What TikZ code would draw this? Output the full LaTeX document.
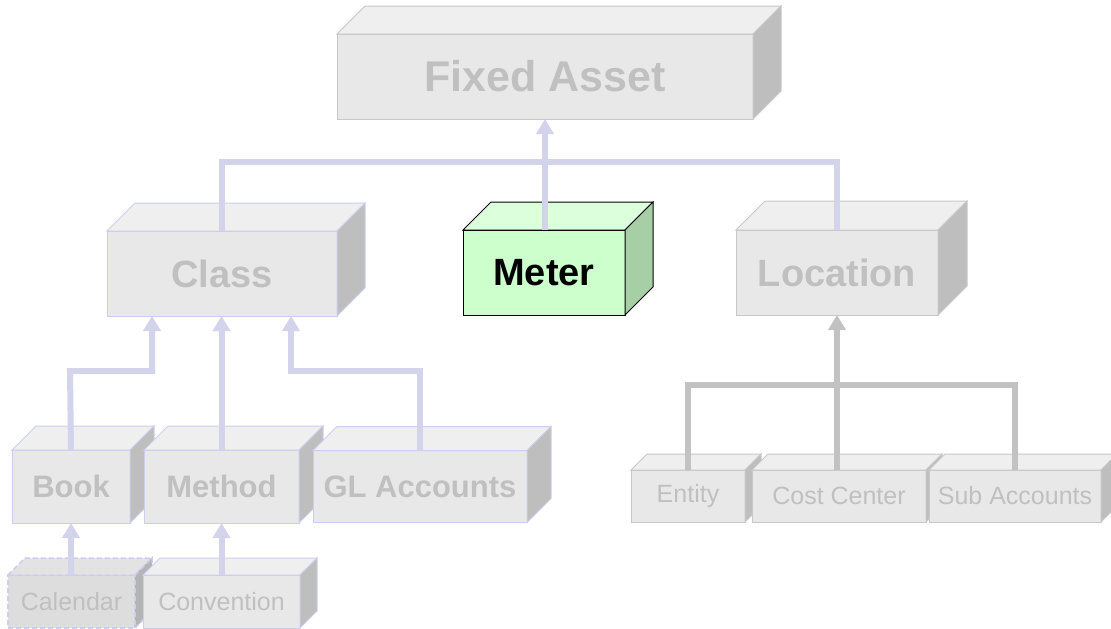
\documentclass[tikz,border=0pt]{standalone}
\usepackage{fontspec}
\setmainfont{Liberation Sans}
\usetikzlibrary{arrows.meta,calc}
\definecolor{lav}{HTML}{D3D3EC}
\definecolor{lavedge}{HTML}{CDCDEE}
\definecolor{gedge}{HTML}{C8C8C8}
\definecolor{frontc}{HTML}{E8E8E8}
\definecolor{topc}{HTML}{EFEFEF}
\definecolor{sidec}{HTML}{BEBEBE}
\definecolor{txt}{HTML}{C0C0C0}
\definecolor{gline}{HTML}{C2C2C2}
\definecolor{mfront}{HTML}{CCFFCC}
\definecolor{mtop}{HTML}{DCFFDC}
\definecolor{mside}{HTML}{A6CFA6}
\definecolor{cfront}{HTML}{DDDDDD}
\definecolor{ctop}{HTML}{E3E3E3}
\definecolor{cside}{HTML}{B4B4B4}
% name, depth, top fill, side fill, draw options
\newcommand\cubefaces[5]{%
  \filldraw[#5, fill=#3] (#1.north west) -- ++(#2,-#2) -- ($(#1.north east)+(#2pt,#2pt)$) -- (#1.north east) -- cycle;
  \filldraw[#5, fill=#4] (#1.north east) -- ($(#1.north east)+(#2pt,#2pt)$) -- ($(#1.south east)+(#2pt,#2pt)$) -- (#1.south east) -- cycle;
}
\tikzset{
  cube/.style={rectangle, fill=frontc, draw=#1, line width=1pt, inner sep=0pt, outer sep=0pt, text=txt},
  bigtxt/.style={font=\fontsize{38}{38}\selectfont\bfseries},
  hugetxt/.style={font=\fontsize{43}{43}\selectfont\bfseries},
  midtxt/.style={font=\fontsize{31}{31}\selectfont\bfseries},
  smalltxt/.style={font=\fontsize{25}{25}\selectfont},
  link/.style={draw=lav, line width=6pt, line join=miter},
  glink/.style={draw=gline, line width=6pt, line join=miter},
  tip/.style={-{Triangle[length=15pt,width=17pt]}},
}
\begin{document}
\begin{tikzpicture}[x=1pt,y=-1pt]
\useasboundingbox (0,0) rectangle (1111,629);
\clip (0,0) rectangle (1111,629);
% top
\node[cube=gedge, hugetxt, minimum width=416pt, minimum height=85pt] (fa) at (545,76.5) {Fixed Asset};
\cubefaces{fa}{28}{topc}{sidec}{draw=gedge, line width=1pt}
% middle row
\node[cube=lavedge, bigtxt, minimum width=230pt, minimum height=85pt] (class) at (222,273.5) {Class};
\cubefaces{class}{28}{topc}{sidec}{draw=lavedge, line width=1pt}
\node[cube=black, bigtxt, fill=mfront, text=black, minimum width=162pt, minimum height=85pt] (meter) at (544,272.5) {Meter};
\cubefaces{meter}{28}{mtop}{mside}{draw=black, line width=1pt}
\node[cube=gedge, bigtxt, minimum width=202pt, minimum height=85pt] (loc) at (837,272.5) {Location};
\cubefaces{loc}{29}{topc}{sidec}{draw=gedge, line width=1pt}
% lower left row
\node[cube=lavedge, midtxt, minimum width=118pt, minimum height=73pt] (book) at (71,486.5) {Book};
\cubefaces{book}{24}{topc}{sidec}{draw=lavedge, line width=1pt}
\node[cube=lavedge, midtxt, minimum width=155pt, minimum height=73pt] (method) at (221.5,486.5) {Method};
\cubefaces{method}{24}{topc}{sidec}{draw=lavedge, line width=1pt}
\node[cube=lavedge, midtxt, minimum width=214pt, minimum height=72pt] (gl) at (420,486.5) {GL Accounts};
\cubefaces{gl}{24}{topc}{sidec}{draw=lavedge, line width=1pt}
% bottom left
\node[cube=lavedge, smalltxt, fill=cfront, line width=1.5pt, dash pattern=on 5pt off 3pt, minimum width=127pt, minimum height=53pt] (cal) at (71.5,601.5) {Calendar};
\cubefaces{cal}{17}{ctop}{cside}{draw=lavedge, line width=1.5pt, dash pattern=on 5pt off 3pt}
\node[cube=lavedge, smalltxt, minimum width=157pt, minimum height=53pt] (conv) at (221.5,601.5) {Convention};
\cubefaces{conv}{17}{topc}{sidec}{draw=lavedge, line width=1pt}
% bottom right
\node[cube=gedge, smalltxt, minimum width=114pt, minimum height=52pt] (ent) at (688,496) {Entity};
\cubefaces{ent}{16}{topc}{sidec}{draw=gedge, line width=1pt}
\node[cube=gedge, smalltxt, minimum width=174pt, minimum height=52pt] (cc) at (839,496) {Cost Center};
\cubefaces{cc}{16}{topc}{sidec}{draw=gedge, line width=1pt}
\node[cube=gedge, smalltxt, minimum width=172pt, minimum height=52pt] (sub) at (1015,496) {Sub Accounts};
\cubefaces{sub}{16}{topc}{sidec}{draw=gedge, line width=1pt}
% connectors to Fixed Asset
\coordinate (jfa) at (545,162);
\draw[link] ([xshift=0pt]class.north) -- (class.north |- jfa) -- (jfa);
\draw[link] (loc.north) -- (loc.north |- jfa) -- (jfa);
\draw[link,tip] (meter.north -| fa.south) -- (fa.south);
% connectors to Class
\draw[link,tip] (book.north) -- (70,371) -- (152,371) -- ([xshift=-70pt]class.south);
\draw[link,tip] (method.north) -- (method.north |- class.south);
\draw[link,tip] (gl.north) -- (420,371) -- (291,371) -- ([xshift=69pt]class.south);
% lower
\draw[link,tip] (cal.north -| book.north) -- (book.south);
\draw[link,tip] (conv.north) -- (conv.north |- method.south);
% connectors to Location
\coordinate (jloc) at (837,385);
\draw[glink] (ent.north) -- (ent.north |- jloc) -- (jloc);
\draw[glink] (sub.north) -- (sub.north |- jloc) -- (jloc);
\draw[glink,tip] (cc.north -| loc.south) -- (loc.south);
\end{tikzpicture}
\end{document}
